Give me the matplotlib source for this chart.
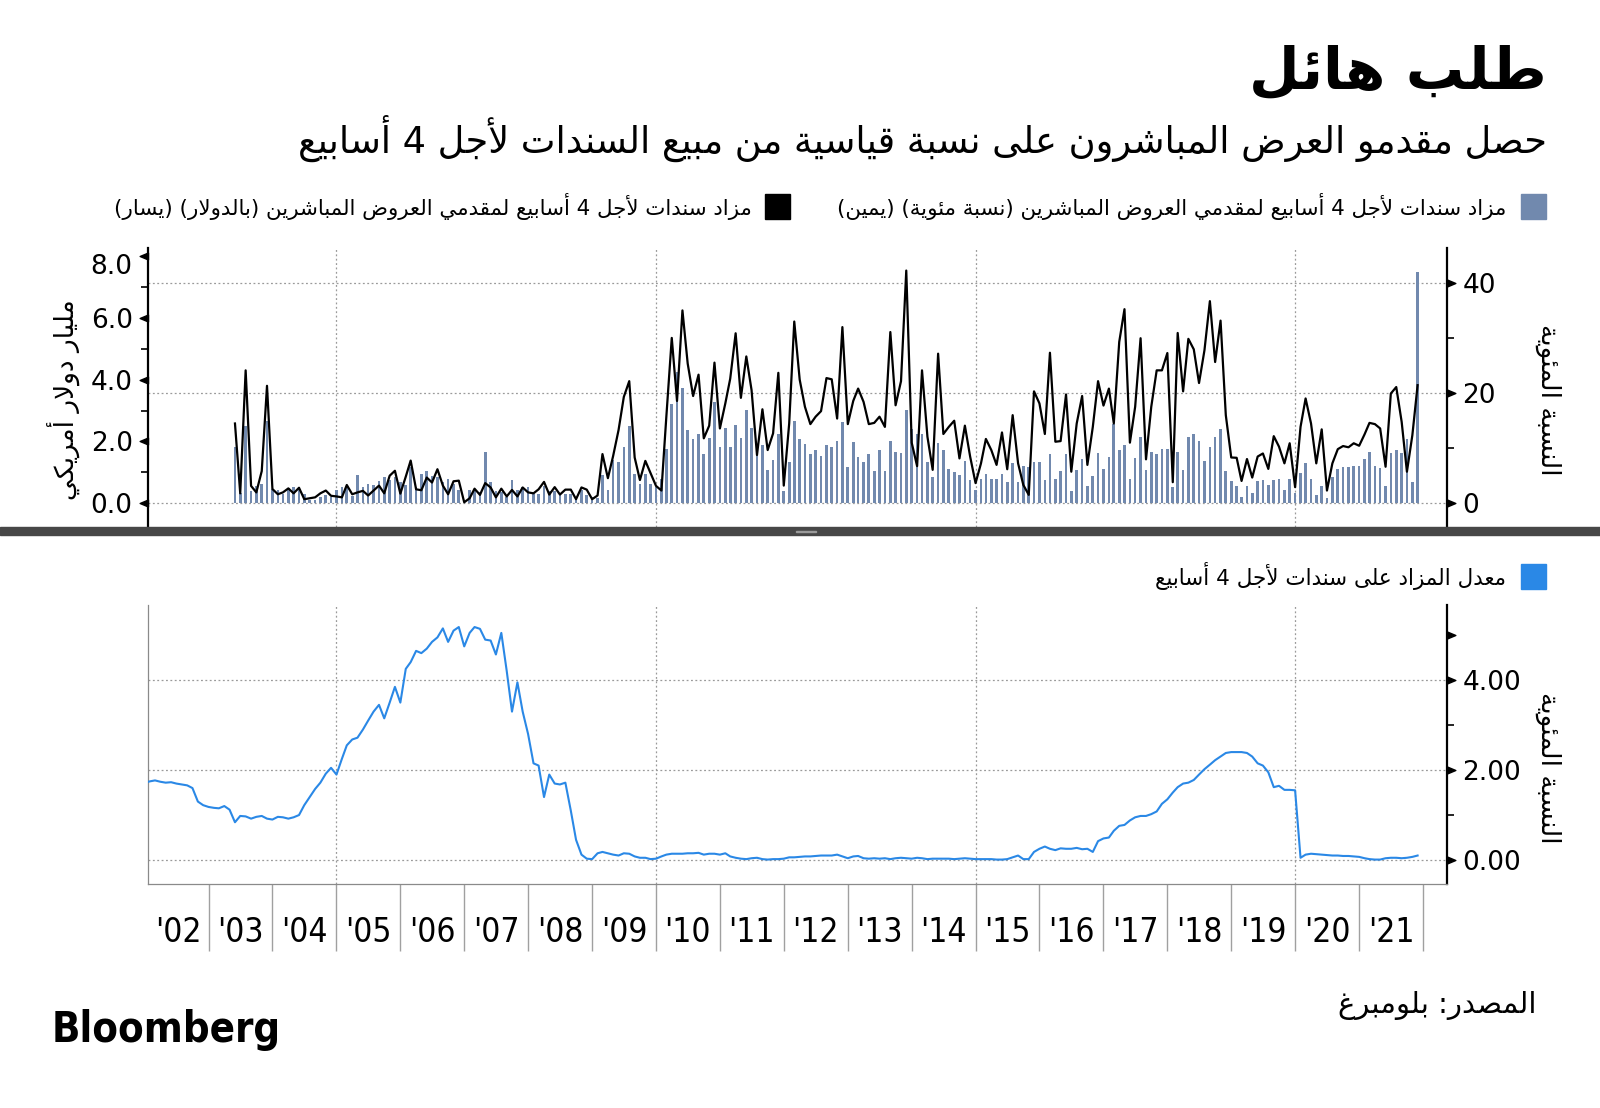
import numpy as np
import pandas as pd
import matplotlib
matplotlib.use('Agg')
import matplotlib.pyplot as plt
import matplotlib.transforms as mtransforms
from matplotlib.path import Path
from matplotlib.patches import Rectangle
from matplotlib import font_manager

# ---------------- DADOS ----------------
# leilao de titulos de 4 semanas, mensal a partir de jun/2003
leilao_pct = [  # parcela dos primary dealers (%) - eixo direito
    10.2, 1.8, 14.0, 2.3, 3.1, 3.6, 15.0, 2.6, 2.4, 1.7,
    2.8, 2.9, 2.9, 1.7, 0.6, 0.7, 1.2, 1.5, 1.1, 2.4,
    2.9, 3.0, 1.4, 5.2, 2.9, 3.6, 3.3, 4.1, 4.7, 4.2,
    4.8, 3.8, 3.3, 6.6, 2.9, 5.4, 5.9, 5.0, 4.8, 3.9,
    4.4, 3.6, 2.4, 0.1, 2.4, 2.4, 2.1, 9.4, 3.8, 2.3,
    2.1, 1.1, 4.3, 2.4, 2.9, 2.9, 1.7, 1.7, 3.1, 2.2,
    2.2, 1.8, 1.7, 1.7, 1.0, 2.4, 1.5, 1.2, 0.9, 5.1,
    2.4, 7.8, 7.5, 10.2, 14.0, 5.4, 3.6, 5.4, 3.6, 3.0,
    4.5, 9.8, 18.1, 23.9, 20.9, 13.3, 11.7, 12.6, 8.9, 11.9,
    18.3, 10.2, 13.7, 10.2, 14.2, 11.8, 16.9, 13.7, 10.5, 10.5,
    6.0, 7.9, 12.6, 2.2, 7.5, 14.9, 11.7, 10.8, 8.9, 9.6,
    8.6, 10.5, 10.2, 11.4, 14.7, 6.6, 11.2, 8.4, 7.5, 8.9,
    5.9, 9.6, 5.9, 11.4, 9.4, 9.1, 17.0, 13.5, 12.6, 12.6,
    7.5, 4.8, 11.0, 9.6, 6.3, 5.7, 5.1, 7.7, 4.2, 2.5,
    4.5, 5.4, 4.5, 4.5, 5.4, 3.8, 7.3, 3.8, 6.7, 6.6,
    7.5, 7.5, 4.3, 8.9, 4.5, 5.9, 8.9, 2.2, 6.1, 8.0,
    3.1, 4.9, 9.1,
    6.3, 8.4, 14.4, 9.6, 10.5, 4.5, 8.2, 12.1, 6.0, 9.4,
    8.9, 9.8, 9.8, 3.0, 9.4, 6.0, 12.1, 12.6, 11.4, 7.7,
    10.2, 12.1, 13.5, 5.9, 4.1, 3.1, 1.2, 3.1, 1.9, 4.0,
    4.2, 3.3, 4.2, 4.4, 2.4, 4.4,
    1.8, 5.6, 7.3, 4.4, 1.5, 3.1, 0.9, 4.7, 6.3, 6.6,
    6.6, 6.7, 6.8, 8.1, 9.4, 6.8, 6.5, 3.1, 9.1, 9.6,
    9.1, 11.7, 3.8, 41.9,
]

leilao_bn = [  # valor comprado pelos primary dealers (US$ bi) - eixo esquerdo
    2.58, 0.32, 4.30, 0.56, 0.35, 1.04, 3.80, 0.46, 0.29, 0.35,
    0.48, 0.32, 0.50, 0.13, 0.16, 0.19, 0.32, 0.41, 0.24, 0.22,
    0.19, 0.59, 0.29, 0.35, 0.40, 0.25, 0.41, 0.57, 0.32, 0.89,
    1.05, 0.31, 0.86, 1.38, 0.45, 0.42, 0.83, 0.67, 1.10, 0.57,
    0.29, 0.71, 0.73, 0.03, 0.16, 0.47, 0.27, 0.65, 0.51, 0.19,
    0.47, 0.22, 0.43, 0.22, 0.51, 0.35, 0.32, 0.45, 0.69, 0.28,
    0.52, 0.28, 0.44, 0.44, 0.13, 0.51, 0.44, 0.13, 0.25, 1.59,
    0.81, 1.53, 2.37, 3.44, 3.95, 1.48, 0.75, 1.37, 0.97, 0.56,
    0.41, 2.80, 5.35, 3.31, 6.24, 4.52, 3.47, 4.16, 2.10, 2.51,
    4.55, 2.42, 3.23, 4.03, 5.50, 3.41, 4.75, 3.66, 1.56, 3.04,
    1.72, 2.26, 4.22, 0.57, 2.58, 5.88, 4.00, 3.12, 2.56, 2.80,
    2.98, 4.05, 4.01, 2.74, 5.70, 2.56, 3.31, 3.71, 3.28, 2.56,
    2.60, 2.80, 2.47, 5.54, 3.17, 3.95, 7.53, 1.96, 1.20, 4.30,
    2.15, 1.08, 4.84, 2.24, 2.47, 2.67, 1.45, 2.51, 1.51, 0.65,
    1.29, 2.08, 1.72, 1.24, 2.29, 1.10, 2.85, 1.29, 0.59, 0.27,
    3.62, 3.23, 2.24, 4.87, 1.99, 2.01, 3.52, 1.02, 2.58, 3.47,
    1.24, 2.47, 3.95,
    3.16, 3.71, 2.58, 5.22, 6.28, 1.96, 3.12, 5.34, 1.42, 3.12,
    4.30, 4.30, 4.86, 0.68, 5.51, 3.62, 5.32, 4.98, 3.89, 4.95,
    6.54, 4.57, 5.91, 2.85, 1.48, 1.47, 0.72, 1.43, 0.83, 1.51,
    1.61, 1.11, 2.17, 1.83, 1.29, 1.94,
    0.52, 2.47, 3.39, 2.58, 1.29, 2.39, 0.41, 1.29, 1.75, 1.85,
    1.81, 1.94, 1.86, 2.23, 2.60, 2.56, 2.42, 1.18, 3.55, 3.76,
    2.63, 1.02, 2.20, 3.82,
]

# taxa media do leilao de 4 semanas (%), mensal a partir de jan/2002
taxa_4s = [
    1.72, 1.75, 1.77, 1.74, 1.72, 1.73, 1.70, 1.68, 1.66, 1.60, 1.30, 1.22,  # 2002
    1.18, 1.16, 1.15, 1.20, 1.12, 0.84, 0.98, 0.97, 0.92, 0.96, 0.98, 0.92,  # 2003
    0.90, 0.96, 0.95, 0.92, 0.95, 1.00, 1.22, 1.40, 1.58, 1.72, 1.92, 2.05,  # 2004
    1.90, 2.25, 2.55, 2.68, 2.72, 2.90, 3.10, 3.30, 3.45, 3.15, 3.50, 3.85,  # 2005
    3.50, 4.25, 4.40, 4.65, 4.60, 4.70, 4.85, 4.95, 5.15, 4.85, 5.10, 5.18,  # 2006
    4.75, 5.05, 5.18, 5.14, 4.90, 4.88, 4.57, 5.05, 4.20, 3.30, 3.95, 3.30,  # 2007
    2.80, 2.15, 2.10, 1.40, 1.90, 1.70, 1.68, 1.72, 1.10, 0.45, 0.12, 0.03,  # 2008
    0.02, 0.15, 0.18, 0.15, 0.12, 0.10, 0.15, 0.14, 0.08, 0.05, 0.05, 0.02,  # 2009
    0.03, 0.08, 0.12, 0.14, 0.14, 0.14, 0.15, 0.15, 0.16, 0.12, 0.14, 0.14,  # 2010
    0.12, 0.15, 0.08, 0.05, 0.03, 0.02, 0.04, 0.05, 0.02, 0.01, 0.02, 0.02,  # 2011
    0.03, 0.06, 0.06, 0.07, 0.08, 0.08, 0.09, 0.10, 0.10, 0.10, 0.12, 0.08,  # 2012
    0.04, 0.08, 0.09, 0.04, 0.03, 0.04, 0.03, 0.04, 0.02, 0.04, 0.05, 0.04,  # 2013
    0.03, 0.05, 0.04, 0.02, 0.03, 0.03, 0.03, 0.03, 0.02, 0.03, 0.04, 0.03,  # 2014
    0.02, 0.02, 0.02, 0.02, 0.01, 0.01, 0.02, 0.06, 0.10, 0.02, 0.02, 0.18,  # 2015
    0.25, 0.30, 0.25, 0.22, 0.26, 0.25, 0.25, 0.27, 0.24, 0.25, 0.18, 0.42,  # 2016
    0.48, 0.50, 0.65, 0.76, 0.78, 0.88, 0.95, 0.98, 0.98, 1.02, 1.08, 1.25,  # 2017
    1.35, 1.50, 1.62, 1.70, 1.72, 1.78, 1.90, 2.02, 2.12, 2.22, 2.30, 2.38,  # 2018
    2.40, 2.40, 2.40, 2.38, 2.30, 2.15, 2.10, 1.95, 1.62, 1.65, 1.56, 1.56,  # 2019
    1.55, 0.05, 0.12, 0.14, 0.13, 0.12, 0.11, 0.10, 0.10, 0.09, 0.09, 0.08,  # 2020
    0.07, 0.04, 0.02, 0.01, 0.01, 0.04, 0.05, 0.05, 0.04, 0.05, 0.07, 0.10,  # 2021
]

anos_rotulo = ["'%02d" % a for a in range(2, 22)]

meses_top = pd.date_range('2003-06-01', periods=len(leilao_pct), freq='MS')
meses_bot = pd.date_range('2002-01-01', periods=len(taxa_4s), freq='MS')

# ---------------- TEXTO ARABE (formas contextuais + ordem visual) ----------------
FORMAS = {
    'ا': (0xFE8D, 2), 'أ': (0xFE83, 2), 'إ': (0xFE87, 2), 'آ': (0xFE81, 2),
    'ب': (0xFE8F, 4), 'ة': (0xFE93, 2), 'ت': (0xFE95, 4), 'ث': (0xFE99, 4),
    'ج': (0xFE9D, 4), 'ح': (0xFEA1, 4), 'خ': (0xFEA5, 4), 'د': (0xFEA9, 2),
    'ذ': (0xFEAB, 2), 'ر': (0xFEAD, 2), 'ز': (0xFEAF, 2), 'س': (0xFEB1, 4),
    'ش': (0xFEB5, 4), 'ص': (0xFEB9, 4), 'ض': (0xFEBD, 4), 'ط': (0xFEC1, 4),
    'ظ': (0xFEC5, 4), 'ع': (0xFEC9, 4), 'غ': (0xFECD, 4), 'ف': (0xFED1, 4),
    'ق': (0xFED5, 4), 'ك': (0xFED9, 4), 'ل': (0xFEDD, 4), 'م': (0xFEE1, 4),
    'ن': (0xFEE5, 4), 'ه': (0xFEE9, 4), 'و': (0xFEED, 2), 'ى': (0xFEEF, 2),
    'ي': (0xFEF1, 4), 'ئ': (0xFE89, 4), 'ؤ': (0xFE85, 2), 'ء': (0xFE80, 1),
}
LAM_ALEF = {'ا': 0xFEFB, 'أ': 0xFEF7, 'إ': 0xFEF9, 'آ': 0xFEF5}


def ar(txt):
    itens = []
    i = 0
    while i < len(txt):
        if txt[i] == 'ل' and i + 1 < len(txt) and txt[i + 1] in LAM_ALEF:
            itens.append((LAM_ALEF[txt[i + 1]], 2))
            i += 2
        else:
            itens.append(FORMAS.get(txt[i], txt[i]))
            i += 1
    saida = []
    for k, it in enumerate(itens):
        if isinstance(it, str):
            saida.append({'(': ')', ')': '('}.get(it, it))
            continue
        base, n = it
        ant = itens[k - 1] if k > 0 else None
        prox = itens[k + 1] if k + 1 < len(itens) else None
        liga_ant = isinstance(ant, tuple) and ant[1] == 4 and n > 1
        liga_prox = n == 4 and isinstance(prox, tuple) and prox[1] > 1
        if n == 4:
            cod = base + (3 if liga_ant and liga_prox else 2 if liga_prox else 1 if liga_ant else 0)
        elif n == 2:
            cod = base + (1 if liga_ant else 0)
        else:
            cod = base
        saida.append(chr(cod))
    return ''.join(saida[::-1])


# fonte estreita se existir (DejaVu Sans Condensed), senao reduz o tamanho
fp_cond = font_manager.FontProperties(family='DejaVu Sans', stretch='condensed')
tem_cond = 'ondensed' in font_manager.findfont(fp_cond, fallback_to_default=True)
ESTICA = 'condensed' if tem_cond else 'normal'
TAM_ANO = 24 if tem_cond else 21
TAM_BLOOM = 30 if tem_cond else 27

# ---------------- FIGURA ----------------
plt.rcParams['font.family'] = ['DejaVu Sans']
W, H = 1600, 1108
fig = plt.figure(figsize=(16, 11.08), dpi=100)


def fx(px):
    return px / W


def fy(py):
    return 1 - py / H


COR_BARRA = '#7189ae'
COR_AZUL = '#2a88e6'
COR_GRADE = '#9a9a9a'

tri_esq = Path([(0, 0.42), (0, -0.42), (-1, 0), (0, 0.42)],
               [Path.MOVETO, Path.LINETO, Path.LINETO, Path.CLOSEPOLY])
tri_dir = Path([(0, 0.42), (0, -0.42), (1, 0), (0, 0.42)],
               [Path.MOVETO, Path.LINETO, Path.LINETO, Path.CLOSEPOLY])

x_ini = pd.Timestamp('2002-01-20')
x_fim = pd.Timestamp('2022-05-18')
grade_x = [pd.Timestamp('%d-01-01' % a) for a in (2005, 2010, 2015, 2020)]

# ---------- painel de cima ----------
ax1 = fig.add_axes([fx(148), fy(527), fx(1447) - fx(148), fy(248) - fy(527)])
ax1.bar(meses_top, leilao_pct, width=15, color=COR_BARRA, zorder=2)
ax1.set_xlim(x_ini, x_fim)
ax1.set_ylim(-4.28, 46.3)
for g in grade_x:
    ax1.axvline(g, color=COR_GRADE, lw=0.9, ls=(0, (1.5, 2)), zorder=1)
for g in [0, 20, 40]:
    ax1.axhline(g, color=COR_GRADE, lw=0.9, ls=(0, (1.5, 2)), zorder=1)

ax2 = ax1.twinx()
ax2.plot(meses_top, leilao_bn, color='black', lw=1.6, zorder=3)
ax2.set_ylim(-0.77, 8.26)

ax1.yaxis.tick_right()
ax2.yaxis.tick_left()
ax1.set_xticks([])
ax1.set_yticks([0, 20, 40], labels=['0', '20', '40'])
ax1.set_yticks([10, 30], minor=True)
ax2.set_yticks([0, 2, 4, 6, 8], labels=['0.0', '2.0', '4.0', '6.0', '8.0'])
ax2.set_yticks([1, 3, 5, 7], minor=True)
for a in (ax1, ax2):
    a.tick_params(axis='y', which='major', length=0, pad=11, labelsize=19)
    a.tick_params(axis='y', which='minor', length=5, width=1.2, color='black')
    for s in a.spines.values():
        s.set_visible(False)
ax1.spines['right'].set_visible(True)
ax1.spines['right'].set_linewidth(1.6)
ax2.spines['left'].set_visible(True)
ax2.spines['left'].set_linewidth(1.6)

# o rotulo 8.0 fica um pouco abaixo da marca, como no original
lab8 = ax2.yaxis.get_major_ticks()[-1].label1
lab8.set_transform(lab8.get_transform() +
                   mtransforms.ScaledTranslation(0, -5.5 / 72, fig.dpi_scale_trans))

ax2.plot(np.zeros(5), [0, 2, 4, 6, 8], transform=ax2.get_yaxis_transform(),
         marker=tri_esq, ms=12, ls='none', color='black', clip_on=False)
ax1.plot(np.ones(3), [0, 20, 40], transform=ax1.get_yaxis_transform(),
         marker=tri_dir, ms=12, ls='none', color='black', clip_on=False)

# ---------- painel de baixo ----------
ax3 = fig.add_axes([fx(148), fy(884), fx(1447) - fx(148), fy(605) - fy(884)])
ax3.plot(meses_bot, taxa_4s, color=COR_AZUL, lw=1.5, zorder=3)
ax3.set_xlim(x_ini, x_fim)
ax3.set_ylim(-0.533, 5.67)
for g in grade_x:
    ax3.axvline(g, color=COR_GRADE, lw=0.9, ls=(0, (1.5, 2)), zorder=1)
for g in [0, 2, 4]:
    ax3.axhline(g, color=COR_GRADE, lw=0.9, ls=(0, (1.5, 2)), zorder=1)

ax3.yaxis.tick_right()
ax3.set_yticks([0, 2, 4], labels=['0.00', '2.00', '4.00'])
ax3.set_yticks([1, 3], minor=True)
ax3.tick_params(axis='y', which='major', length=0, pad=11, labelsize=19)
ax3.tick_params(axis='y', which='minor', length=5, width=1.2, color='black')
ax3.plot(np.ones(4), [0, 2, 4, 5], transform=ax3.get_yaxis_transform(),
         marker=tri_dir, ms=12, ls='none', color='black', clip_on=False)

limites_ano = [pd.Timestamp('%d-01-01' % a) for a in range(2003, 2023)]
meio_ano = [x_ini + (limites_ano[0] - x_ini) / 2] + \
    [pd.Timestamp('%d-07-02' % a) for a in range(2003, 2022)]
ax3.set_xticks(limites_ano, labels=[''] * len(limites_ano))
ax3.set_xticks(meio_ano, labels=anos_rotulo, minor=True)
ax3.tick_params(axis='x', which='major', length=48, width=1, color='#a0a0a0')
ax3.tick_params(axis='x', which='minor', length=0, pad=23, labelsize=TAM_ANO)
for lb in ax3.get_xticklabels(minor=True):
    lb.set_fontstretch(ESTICA)

ax3.spines['top'].set_visible(False)
ax3.spines['right'].set_linewidth(1.6)
ax3.spines['left'].set_color('#8a8a8a')
ax3.spines['left'].set_linewidth(0.9)
ax3.spines['bottom'].set_color('#8a8a8a')
ax3.spines['bottom'].set_linewidth(0.9)

# ---------- separador entre paineis ----------
fig.patches.append(Rectangle((0, fy(535)), 1, 8 / H, transform=fig.transFigure,
                             color='#474747', zorder=5))
fig.patches.append(Rectangle((fx(796), fy(532.5)), fx(20), 1 / H, transform=fig.transFigure,
                             color='#9a9a9a', zorder=6))

# ---------- textos ----------
fig.text(fx(1547), fy(72), ar('طلب هائل'), ha='right', va='center',
         fontsize=42, fontweight='bold')
fig.text(fx(1547), fy(138), ar('حصل مقدمو العرض المباشرون على نسبة قياسية من مبيع السندات لأجل 4 أسابيع'),
         ha='right', va='center', fontsize=26.5)

fig.patches.append(Rectangle((fx(1521), fy(219)), fx(25), 25 / H, transform=fig.transFigure,
                             color=COR_BARRA))
fig.text(fx(1506), fy(206), ar('مزاد سندات لأجل 4 أسابيع لمقدمي العروض المباشرين (نسبة مئوية) (يمين)'),
         ha='right', va='center', fontsize=15.4)
fig.patches.append(Rectangle((fx(765), fy(219)), fx(25), 25 / H, transform=fig.transFigure,
                             color='black'))
fig.text(fx(752), fy(206), ar('مزاد سندات لأجل 4 أسابيع لمقدمي العروض المباشرين (بالدولار) (يسار)'),
         ha='right', va='center', fontsize=15.4)

fig.patches.append(Rectangle((fx(1521), fy(589)), fx(25), 25 / H, transform=fig.transFigure,
                             color=COR_AZUL))
fig.text(fx(1506), fy(576), ar('معدل المزاد على سندات لأجل 4 أسابيع'),
         ha='right', va='center', fontsize=15.5)

fig.text(fx(64), fy(400), ar('مليار دولار أمريكي'), rotation=90, ha='center', va='center', fontsize=19)
fig.text(fx(1548), fy(400), ar('النسبة المئوية'), rotation=-90, ha='center', va='center', fontsize=19)
fig.text(fx(1548), fy(768), ar('النسبة المئوية'), rotation=-90, ha='center', va='center', fontsize=19)

fig.text(fx(1537), fy(1006), ar('المصدر: بلومبرغ'), ha='right', va='center', fontsize=21)
fig.text(fx(52), fy(1030), 'Bloomberg', ha='left', va='center', fontsize=TAM_BLOOM,
         fontweight='bold', fontstretch=ESTICA)

fig.savefig('out.png', dpi=100, facecolor='white')
